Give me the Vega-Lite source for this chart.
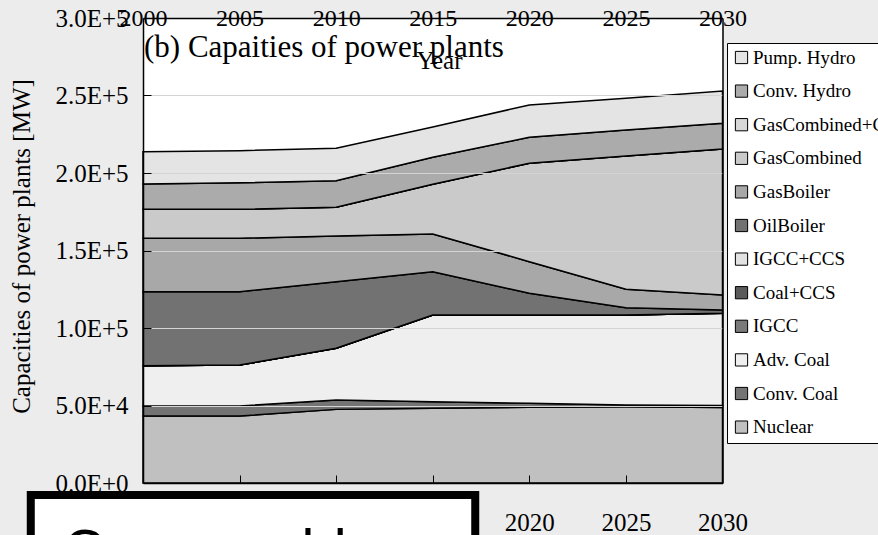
{
  "$schema": "https://vega.github.io/schema/vega-lite/v6.json",
  "width": 579.5,
  "height": 465,
  "autosize": {"type": "none"},
  "padding": {"left": 143, "top": 18, "right": 155.5, "bottom": 52},
  "background": "#ececec",
  "title": {
    "text": "(b) Capaities of power plants",
    "anchor": "start",
    "frame": "group",
    "font": "Liberation Serif",
    "fontSize": 31,
    "fontWeight": "normal",
    "color": "black",
    "baseline": "alphabetic",
    "offset": 0,
    "dx": 1,
    "dy": 82
  },
  "config": {
    "view": {"fill": "white", "stroke": null},
    "font": "Liberation Serif",
    "axis": {"labelFont": "Liberation Serif", "titleFont": "Liberation Serif", "labelColor": "black", "titleColor": "black", "titleFontWeight": "normal", "labelFontWeight": "normal", "labelFlush": false, "labelOverlap": false},
    "legend": {"labelFont": "Liberation Serif", "labelFontWeight": "normal"}
  },
  "resolve": {"axis": {"x": "independent", "y": "independent"}},
  "layer": [
    {
      "data": {"values": [
        {"year": 2000, "source": "Nuclear", "mw": 43200, "k": 1},
        {"year": 2000, "source": "Conv. Coal", "mw": 6500, "k": 2},
        {"year": 2000, "source": "Adv. Coal", "mw": 26000, "k": 3},
        {"year": 2000, "source": "IGCC", "mw": 0, "k": 4},
        {"year": 2000, "source": "Coal+CCS", "mw": 0, "k": 5},
        {"year": 2000, "source": "IGCC+CCS", "mw": 0, "k": 6},
        {"year": 2000, "source": "OilBoiler", "mw": 47700, "k": 7},
        {"year": 2000, "source": "GasBoiler", "mw": 34500, "k": 8},
        {"year": 2000, "source": "GasCombined", "mw": 18700, "k": 9},
        {"year": 2000, "source": "GasCombined+CCS", "mw": 0, "k": 10},
        {"year": 2000, "source": "Conv. Hydro", "mw": 16300, "k": 11},
        {"year": 2000, "source": "Pump. Hydro", "mw": 20800, "k": 12},
        {"year": 2005, "source": "Nuclear", "mw": 43200, "k": 1},
        {"year": 2005, "source": "Conv. Coal", "mw": 6500, "k": 2},
        {"year": 2005, "source": "Adv. Coal", "mw": 26400, "k": 3},
        {"year": 2005, "source": "IGCC", "mw": 0, "k": 4},
        {"year": 2005, "source": "Coal+CCS", "mw": 0, "k": 5},
        {"year": 2005, "source": "IGCC+CCS", "mw": 0, "k": 6},
        {"year": 2005, "source": "OilBoiler", "mw": 47300, "k": 7},
        {"year": 2005, "source": "GasBoiler", "mw": 34500, "k": 8},
        {"year": 2005, "source": "GasCombined", "mw": 18700, "k": 9},
        {"year": 2005, "source": "GasCombined+CCS", "mw": 0, "k": 10},
        {"year": 2005, "source": "Conv. Hydro", "mw": 17100, "k": 11},
        {"year": 2005, "source": "Pump. Hydro", "mw": 20700, "k": 12},
        {"year": 2010, "source": "Nuclear", "mw": 47500, "k": 1},
        {"year": 2010, "source": "Conv. Coal", "mw": 6000, "k": 2},
        {"year": 2010, "source": "Adv. Coal", "mw": 33400, "k": 3},
        {"year": 2010, "source": "IGCC", "mw": 0, "k": 4},
        {"year": 2010, "source": "Coal+CCS", "mw": 0, "k": 5},
        {"year": 2010, "source": "IGCC+CCS", "mw": 0, "k": 6},
        {"year": 2010, "source": "OilBoiler", "mw": 43000, "k": 7},
        {"year": 2010, "source": "GasBoiler", "mw": 29500, "k": 8},
        {"year": 2010, "source": "GasCombined", "mw": 18500, "k": 9},
        {"year": 2010, "source": "GasCombined+CCS", "mw": 0, "k": 10},
        {"year": 2010, "source": "Conv. Hydro", "mw": 17100, "k": 11},
        {"year": 2010, "source": "Pump. Hydro", "mw": 20900, "k": 12},
        {"year": 2015, "source": "Nuclear", "mw": 48200, "k": 1},
        {"year": 2015, "source": "Conv. Coal", "mw": 4200, "k": 2},
        {"year": 2015, "source": "Adv. Coal", "mw": 56000, "k": 3},
        {"year": 2015, "source": "IGCC", "mw": 0, "k": 4},
        {"year": 2015, "source": "Coal+CCS", "mw": 0, "k": 5},
        {"year": 2015, "source": "IGCC+CCS", "mw": 0, "k": 6},
        {"year": 2015, "source": "OilBoiler", "mw": 27900, "k": 7},
        {"year": 2015, "source": "GasBoiler", "mw": 24300, "k": 8},
        {"year": 2015, "source": "GasCombined", "mw": 32100, "k": 9},
        {"year": 2015, "source": "GasCombined+CCS", "mw": 0, "k": 10},
        {"year": 2015, "source": "Conv. Hydro", "mw": 17400, "k": 11},
        {"year": 2015, "source": "Pump. Hydro", "mw": 19600, "k": 12},
        {"year": 2020, "source": "Nuclear", "mw": 48800, "k": 1},
        {"year": 2020, "source": "Conv. Coal", "mw": 2600, "k": 2},
        {"year": 2020, "source": "Adv. Coal", "mw": 57000, "k": 3},
        {"year": 2020, "source": "IGCC", "mw": 0, "k": 4},
        {"year": 2020, "source": "Coal+CCS", "mw": 0, "k": 5},
        {"year": 2020, "source": "IGCC+CCS", "mw": 0, "k": 6},
        {"year": 2020, "source": "OilBoiler", "mw": 14000, "k": 7},
        {"year": 2020, "source": "GasBoiler", "mw": 20400, "k": 8},
        {"year": 2020, "source": "GasCombined", "mw": 63500, "k": 9},
        {"year": 2020, "source": "GasCombined+CCS", "mw": 0, "k": 10},
        {"year": 2020, "source": "Conv. Hydro", "mw": 16700, "k": 11},
        {"year": 2020, "source": "Pump. Hydro", "mw": 20900, "k": 12},
        {"year": 2025, "source": "Nuclear", "mw": 49200, "k": 1},
        {"year": 2025, "source": "Conv. Coal", "mw": 1100, "k": 2},
        {"year": 2025, "source": "Adv. Coal", "mw": 58100, "k": 3},
        {"year": 2025, "source": "IGCC", "mw": 0, "k": 4},
        {"year": 2025, "source": "Coal+CCS", "mw": 0, "k": 5},
        {"year": 2025, "source": "IGCC+CCS", "mw": 0, "k": 6},
        {"year": 2025, "source": "OilBoiler", "mw": 4700, "k": 7},
        {"year": 2025, "source": "GasBoiler", "mw": 11900, "k": 8},
        {"year": 2025, "source": "GasCombined", "mw": 86000, "k": 9},
        {"year": 2025, "source": "GasCombined+CCS", "mw": 0, "k": 10},
        {"year": 2025, "source": "Conv. Hydro", "mw": 16700, "k": 11},
        {"year": 2025, "source": "Pump. Hydro", "mw": 20500, "k": 12},
        {"year": 2030, "source": "Nuclear", "mw": 48700, "k": 1},
        {"year": 2030, "source": "Conv. Coal", "mw": 1300, "k": 2},
        {"year": 2030, "source": "Adv. Coal", "mw": 59500, "k": 3},
        {"year": 2030, "source": "IGCC", "mw": 0, "k": 4},
        {"year": 2030, "source": "Coal+CCS", "mw": 0, "k": 5},
        {"year": 2030, "source": "IGCC+CCS", "mw": 0, "k": 6},
        {"year": 2030, "source": "OilBoiler", "mw": 2100, "k": 7},
        {"year": 2030, "source": "GasBoiler", "mw": 9700, "k": 8},
        {"year": 2030, "source": "GasCombined", "mw": 94200, "k": 9},
        {"year": 2030, "source": "GasCombined+CCS", "mw": 0, "k": 10},
        {"year": 2030, "source": "Conv. Hydro", "mw": 16600, "k": 11},
        {"year": 2030, "source": "Pump. Hydro", "mw": 20800, "k": 12}
      ]},
      "mark": {"type": "area", "stroke": "black", "strokeWidth": 1.5, "opacity": 1, "interpolate": "linear"},
      "encoding": {
        "x": {
          "field": "year", "type": "quantitative",
          "scale": {"domain": [2000, 2030], "nice": false, "zero": false},
          "axis": {"orient": "bottom", "zindex": 1, "labels": false, "title": null, "grid": false,
                   "domain": true, "domainColor": "black", "domainWidth": 1.5,
                   "ticks": true, "tickSize": -8, "tickColor": "black", "tickWidth": 1,
                   "values": [2005, 2010, 2015, 2020, 2025]}
        },
        "y": {
          "field": "mw", "type": "quantitative", "stack": "zero",
          "scale": {"domain": [0, 300000], "nice": false, "zero": false},
          "axis": {"orient": "left", "zindex": 1,
                   "values": [0, 50000, 100000, 150000, 200000, 250000, 300000],
                   "labelExpr": "upper(format(datum.value, '.1e'))",
                   "labelFont": "Liberation Serif", "labelFontSize": 25, "labelPadding": 23,
                   "tickSize": -8, "tickColor": "black", "tickWidth": 1,
                   "domainColor": "black", "domainWidth": 1.5,
                   "grid": true, "gridColor": "#d4d4d4", "gridWidth": 1,
                   "title": "Capacities of power plants [MW]",
                   "titleFont": "Liberation Serif", "titleFontSize": 25, "titleX": -122, "titleY": 228,
                   "titleAngle": -90, "titleAlign": "center", "titleBaseline": "middle"}
        },
        "color": {
          "field": "source", "type": "nominal",
          "scale": {
            "domain": ["Pump. Hydro", "Conv. Hydro", "GasCombined+CCS", "GasCombined", "GasBoiler", "OilBoiler", "IGCC+CCS", "Coal+CCS", "IGCC", "Adv. Coal", "Conv. Coal", "Nuclear"],
            "range": ["#e4e4e4", "#ababab", "#d8d8d8", "#cacaca", "#a8a8a8", "#727272", "#e2e2e2", "#5a5a5a", "#7a7a7a", "#efefef", "#747474", "#c0c0c0"]
          },
          "legend": {
            "orient": "none", "legendX": 584, "legendY": 25, "title": null,
            "fillColor": "white", "strokeColor": "black", "padding": 5,
            "symbolType": "square", "symbolSize": 150, "symbolStrokeColor": "black", "symbolStrokeWidth": 1, "symbolOpacity": 1,
            "labelFont": "Liberation Serif", "labelFontSize": 19, "labelColor": "black",
            "labelOffset": 2, "rowPadding": 13.6, "labelLimit": 300
          }
        },
        "order": {"field": "k", "type": "quantitative"}
      }
    },
    {
      "data": {"values": [{"note": "box"}]},
      "mark": {"type": "rect", "fill": "white", "stroke": "black", "strokeWidth": 8},
      "encoding": {
        "x": {"datum": 1994.19, "type": "quantitative",
              "scale": {"domain": [2000, 2030], "nice": false, "zero": false},
              "axis": {"orient": "bottom", "zindex": 0, "values": [2000, 2005, 2010, 2015, 2020, 2025, 2030],
                       "format": "d", "ticks": false, "domain": false, "grid": false, "title": null,
                       "labelFont": "Liberation Serif",
                       "labelBaseline": "middle", "labelPadding": 39, "labelFontSize": 25}},
        "x2": {"datum": 2017.2},
        "y": {"datum": -7740, "type": "quantitative",
              "scale": {"domain": [0, 300000], "nice": false, "zero": false},
              "axis": {"orient": "right", "zindex": 1, "labels": false, "ticks": false, "grid": false,
                       "domain": true, "domainColor": "black", "domainWidth": 1.5, "title": null}},
        "y2": {"datum": -200000}
      }
    },
    {
      "data": {"values": [{"note": "Comparable"}]},
      "mark": {"type": "text", "text": "Comparable", "font": "Liberation Sans", "fontSize": 58, "align": "left", "baseline": "alphabetic", "color": "black"},
      "encoding": {
        "x": {"datum": 1995.86, "type": "quantitative",
              "scale": {"domain": [2000, 2030], "nice": false, "zero": false},
              "axis": {"orient": "top", "zindex": 1, "values": [2000, 2005, 2010, 2015, 2020, 2025, 2030],
                       "format": "d", "ticks": false, "domain": true, "domainColor": "black", "domainWidth": 1.5, "grid": false,
                       "labelFont": "Liberation Serif",
                       "labelBaseline": "middle", "labelPadding": 0, "labelFontSize": 24, "labelDx": 5,
                       "title": "Year", "titleFont": "Liberation Serif", "titleFontSize": 25, "titleX": 296, "titleY": 42,
                       "titleAlign": "center", "titleBaseline": "middle"}},
        "y": {"datum": -56100, "type": "quantitative",
              "scale": {"domain": [0, 300000], "nice": false, "zero": false},
              "axis": null}
      }
    }
  ]
}
